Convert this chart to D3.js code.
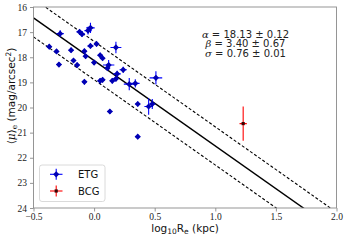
<!DOCTYPE html>
<html><head><meta charset="utf-8">
<script src="https://cdn.jsdelivr.net/npm/d3@7"></script>
<style>body{margin:0;background:#fff}svg{display:block}</style>
</head><body>
<script>
const etgX = [-0.37,-0.31,-0.29,-0.28,-0.19,-0.17,-0.14,-0.12,-0.10,-0.08,-0.07,-0.08,-0.05,-0.03,-0.03,0.02,0.00,0.05,0.07,0.12,0.11,0.05,0.07,0.18,0.15,0.19,0.18,0.24,0.29,0.34,0.51,0.36,0.45,0.48,0.13,0.36];
const etgY = [17.58,17.77,18.29,17.06,17.72,18.13,18.31,16.99,17.08,17.76,17.96,18.98,16.94,16.83,17.55,17.47,18.21,17.92,18.04,18.31,18.43,18.94,18.90,17.61,18.94,18.66,18.86,18.50,19.07,19.04,18.82,19.86,19.96,19.86,20.16,21.16];
const etgXerr = [0.02,0.02,0.02,0.03,0.02,0.02,0.02,0.025,0.025,0.02,0.02,0.02,0.03,0.035,0.025,0.02,0.02,0.02,0.02,0.047,0.02,0.02,0.02,0.045,0.02,0.03,0.02,0.03,0.045,0.035,0.052,0.02,0.035,0.025,0.02,0.02];
const etgYerr = [0.1,0.1,0.1,0.13,0.1,0.1,0.1,0.1,0.1,0.1,0.1,0.1,0.15,0.2,0.1,0.1,0.1,0.1,0.1,0.2,0.1,0.1,0.1,0.23,0.1,0.12,0.1,0.12,0.24,0.16,0.26,0.1,0.33,0.2,0.1,0.1];
const bcgX = [1.23];
const bcgY = [20.64];
const bcgXerr = [0.03];
const bcgYerr = [0.68];
const fitAlpha = 18.13, fitBeta = 3.40, fitSigma = 0.76;
const xTicks = [-0.5, 0.0, 0.5, 1.0, 1.5, 2.0];
const yTicks = [16, 17, 18, 19, 20, 21, 22, 23, 24];
const statLines = [["α", " = 18.13 ± 0.12"], ["β", " = 3.40 ± 0.67"], ["σ", " = 0.76 ± 0.01"]];

const W = 347, H = 240;
const L = 33.5, R = 336.5, T = 7, B = 208;
const svg = d3.select("body").append("svg").attr("width", W).attr("height", H);
const x = d3.scaleLinear().domain([-0.5, 2.0]).range([L, R]);
const y = d3.scaleLinear().domain([16, 24]).range([T, B]);

svg.append("defs").append("clipPath").attr("id", "clip")
  .append("rect").attr("x", L).attr("y", T).attr("width", R - L).attr("height", B - T);
const plot = svg.append("g").attr("clip-path", "url(#clip)");

// fit lines
const fit = (v, off) => fitAlpha + fitBeta * v + off;
const xs = [-0.5, 2.0];
[[0, null, 1.4], [-fitSigma, "3,2", 1.1], [fitSigma, "3,2", 1.1]].forEach(([off, dash, w]) => {
  plot.append("line")
    .attr("x1", x(xs[0])).attr("y1", y(fit(xs[0], off)))
    .attr("x2", x(xs[1])).attr("y2", y(fit(xs[1], off)))
    .attr("stroke", "#000").attr("stroke-width", w)
    .attr("stroke-dasharray", dash);
});

function errPts(g, X, Y, XE, YE, ecol, mcol, shape) {
  X.forEach((v, i) => {
    g.append("line").attr("x1", x(v - XE[i])).attr("x2", x(v + XE[i]))
      .attr("y1", y(Y[i])).attr("y2", y(Y[i])).attr("stroke", ecol).attr("stroke-width", 1.1);
    g.append("line").attr("x1", x(v)).attr("x2", x(v))
      .attr("y1", y(Y[i] - YE[i])).attr("y2", y(Y[i] + YE[i])).attr("stroke", ecol).attr("stroke-width", 1.1);
  });
  X.forEach((v, i) => drawMarker(g, x(v), y(Y[i]), mcol, shape));
}
function drawMarker(g, cx, cy, col, shape) {
  if (shape === "D") {
    const r = 3.1;
    g.append("path").attr("d", `M${cx},${cy - r}L${cx + r},${cy}L${cx},${cy + r}L${cx - r},${cy}Z`).attr("fill", col);
  } else {
    g.append("rect").attr("x", cx - 1.6).attr("y", cy - 1.6).attr("width", 3.2).attr("height", 3.2).attr("fill", col);
  }
}
errPts(plot, etgX, etgY, etgXerr, etgYerr, "#0000ff", "#0000b4", "D");
errPts(plot, bcgX, bcgY, bcgXerr, bcgYerr, "#ff0000", "#3a0000", "s");

// axes frame
svg.append("rect").attr("x", L).attr("y", T).attr("width", R - L).attr("height", B - T)
  .attr("fill", "none").attr("stroke", "#8a8a8a").attr("stroke-width", 0.9);

const tickFont = "'Liberation Serif', 'DejaVu Serif', serif";
const xa = svg.append("g").attr("transform", `translate(0,${B})`)
  .call(d3.axisBottom(x).tickValues(xTicks).tickSize(3.5).tickPadding(2)
    .tickFormat(d => d3.format(".1f")(d).replace("-", "−")));
const ya = svg.append("g").attr("transform", `translate(${L},0)`)
  .call(d3.axisLeft(y).tickValues(yTicks).tickSize(3.5).tickPadding(3).tickFormat(d3.format("d")));
[xa, ya].forEach(a => {
  a.select(".domain").remove();
  a.selectAll(".tick line").attr("stroke", "#8a8a8a").attr("stroke-width", 0.9);
  a.selectAll(".tick text").attr("font-family", tickFont).attr("font-size", 9.5).attr("fill", "#222");
});

// stats text
const st = svg.append("g");
statLines.forEach(([g, rest], i) => {
  const t = st.append("text").attr("x", 245.5).attr("y", 37.5 + i * 9.6)
    .attr("text-anchor", "middle").attr("font-size", 10).attr("fill", "#222")
    .attr("font-family", "'DejaVu Sans', sans-serif");
  t.append("tspan").attr("font-family", "'DejaVu Serif', serif").attr("font-style", "italic").text(g);
  t.append("tspan").text(rest);
});

// x label
const xl = svg.append("text").attr("x", 185).attr("y", 231.5).attr("text-anchor", "middle")
  .attr("font-size", 10.5).attr("fill", "#111").attr("font-family", "'DejaVu Sans', sans-serif");
xl.append("tspan").text("log");
xl.append("tspan").attr("font-size", 7.5).attr("dy", 2).text("10");
xl.append("tspan").attr("dy", -2).text("R");
xl.append("tspan").attr("font-size", 7.5).attr("dy", 2).text("e");
xl.append("tspan").attr("dy", -2).text(" (kpc)");

// y label
const yl = svg.append("text").attr("transform", "translate(14.5,96) rotate(-90)").attr("text-anchor", "middle")
  .attr("font-size", 10.5).attr("fill", "#111").attr("font-family", "'DejaVu Sans', sans-serif");
yl.append("tspan").attr("font-family", "'DejaVu Serif', serif").text("⟨");
yl.append("tspan").attr("font-family", "'DejaVu Serif', serif").attr("font-style", "italic").text("μ");
yl.append("tspan").attr("font-family", "'DejaVu Serif', serif").text("⟩");
yl.append("tspan").attr("font-size", 7.5).attr("dy", 2).attr("font-family", "'DejaVu Serif', serif").text("e");
yl.append("tspan").attr("dy", -2).text(" (mag/arcsec");
yl.append("tspan").attr("font-size", 7.5).attr("dy", -4).text("2");
yl.append("tspan").attr("dy", 4).text(")");

// legend
const lg = svg.append("g");
lg.append("rect").attr("x", 39.5).attr("y", 165).attr("width", 65.5).attr("height", 36.5).attr("rx", 2.5)
  .attr("fill", "#fff").attr("fill-opacity", 0.85).attr("stroke", "#d0d0d0").attr("stroke-width", 0.8);
[["ETG", "#0000ff", "#0000b4", "D", 174.3], ["BCG", "#ff0000", "#3a0000", "s", 191]].forEach(([lab, ec, mc, sh, yy]) => {
  lg.append("line").attr("x1", 50).attr("x2", 62.5).attr("y1", yy).attr("y2", yy).attr("stroke", ec).attr("stroke-width", 1.1);
  lg.append("line").attr("x1", 56.2).attr("x2", 56.2).attr("y1", yy - 5.5).attr("y2", yy + 5.5).attr("stroke", ec).attr("stroke-width", 1.1);
  drawMarker(lg, 56.2, yy, mc, sh);
  lg.append("text").attr("x", 78).attr("y", yy + 3.6).attr("font-size", 10).attr("fill", "#111")
    .attr("font-family", "'DejaVu Sans', sans-serif").text(lab);
});
</script>
</body></html>
